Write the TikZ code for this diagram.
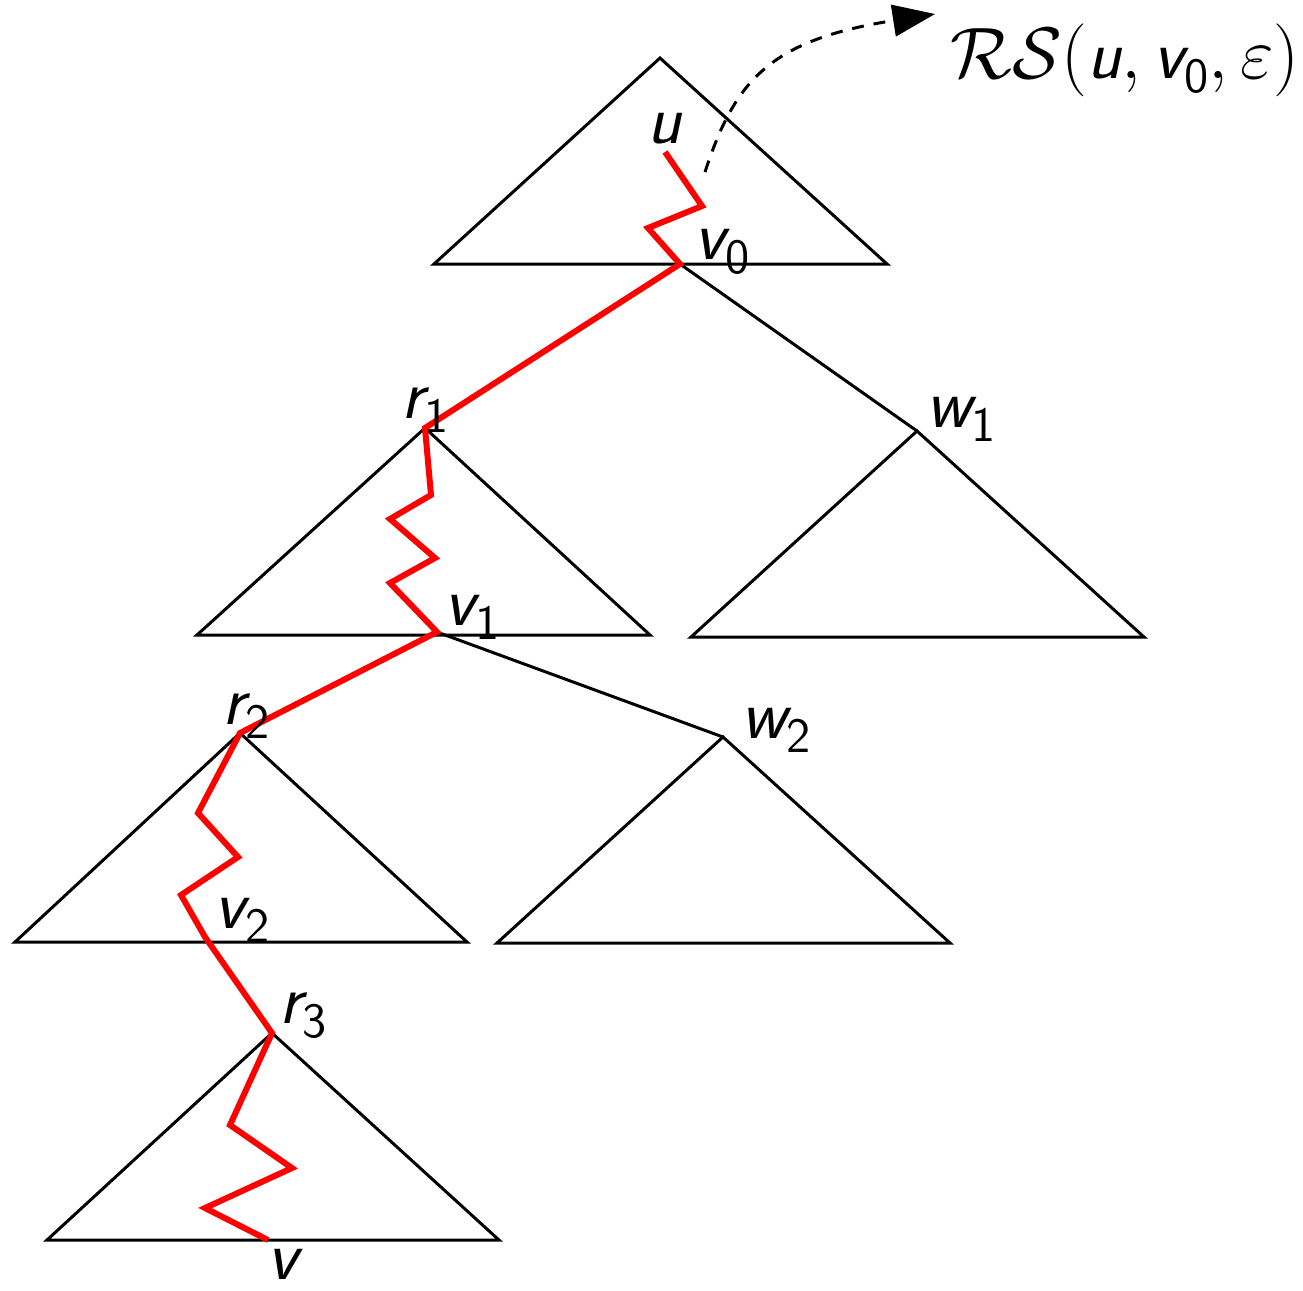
\documentclass[tikz,border=0pt]{standalone}
\usepackage{fontspec}
\usetikzlibrary{arrows.meta}
\newcommand\lbl[2]{{\sffamily\itshape #1}\raisebox{-0.2em}{\fontsize{14}{15}\sffamily #2}}
\begin{document}
\begin{tikzpicture}[x=0.01cm,y=-0.01cm,
  tri/.style={line width=0.85pt,line join=miter},
  edge/.style={line width=0.85pt},
  redpath/.style={red,line width=1.7pt,line join=miter},
  lab/.style={inner sep=0pt,font=\fontsize{20}{22}\selectfont},
  arr/.style={line width=0.85pt,dash pattern=on 3.4pt off 2.8pt,-{Triangle[length=12pt,width=9pt]}}]
\useasboundingbox (0,0) rectangle (1303,1290);
% key points
\coordinate (v0) at (680,264);
\coordinate (r1) at (425,428);
\coordinate (w1) at (917,431);
\coordinate (v1) at (437,632);
\coordinate (r2) at (240,733);
\coordinate (w2) at (723,737);
\coordinate (r3) at (272,1033);
\coordinate (u) at (665,152);
\coordinate (v) at (268,1240);
% triangles
\draw[tri] (660,58) -- (887,264) -- (434,264) -- cycle;
\draw[tri] (r1) -- (650,635) -- (197,635) -- cycle;
\draw[tri] (w1) -- (1144,637) -- (691,637) -- cycle;
\draw[tri] (r2) -- (467,942) -- (15,942) -- cycle;
\draw[tri] (w2) -- (950,943) -- (497,943) -- cycle;
\draw[tri] (r3) -- (499,1240) -- (47,1240) -- cycle;
% black edges
\draw[edge] (v0) -- (w1);
\draw[edge] (v1) -- (w2);
% red path
\draw[redpath] (u) -- (702,206) -- (648,228) -- (v0) -- (r1)
  -- (431,495) -- (390,519) -- (435,558) -- (390,583) -- (v1) -- (r2)
  -- (198,813) -- (238,857) -- (181,895) -- (205,937) -- (r3)
  -- (230,1125) -- (292,1168) -- (205,1208) -- (v);
% labels
\node[lab] (lu) at (665,135) {\lbl{u}{}};
\node[lab] (lv0) at (722,252) {\lbl{v}{0}};
\node[lab] (lr1) at (425,410) {\lbl{r}{1}};
\node[lab] (lw1) at (961,419) {\lbl{w}{1}};
\node[lab] (lv1) at (472,617) {\lbl{v}{1}};
\node[lab] (lr2) at (246,716) {\lbl{r}{2}};
\node[lab] (lw2) at (776,730) {\lbl{w}{2}};
\node[lab] (lv2) at (242,920) {\lbl{v}{2}};
\node[lab] (lr3) at (303,1016) {\lbl{r}{3}};
\node[lab] (lv) at (283,1271) {\lbl{v}{}};
\node[inner sep=0pt,font=\fontsize{20}{22}\selectfont] (rs) at (1125,60)
  {$\mathcal{R}\mathcal{S}(\mbox{\sffamily\itshape u},\mbox{\lbl{v}{0}},\varepsilon)$};
% dashed arrow
\coordinate (a0) at (705,172);
\coordinate (a1) at (935,14);
\draw[arr] (a0) .. controls (735,80) and (770,40) .. (a1);
\end{tikzpicture}
\end{document}
